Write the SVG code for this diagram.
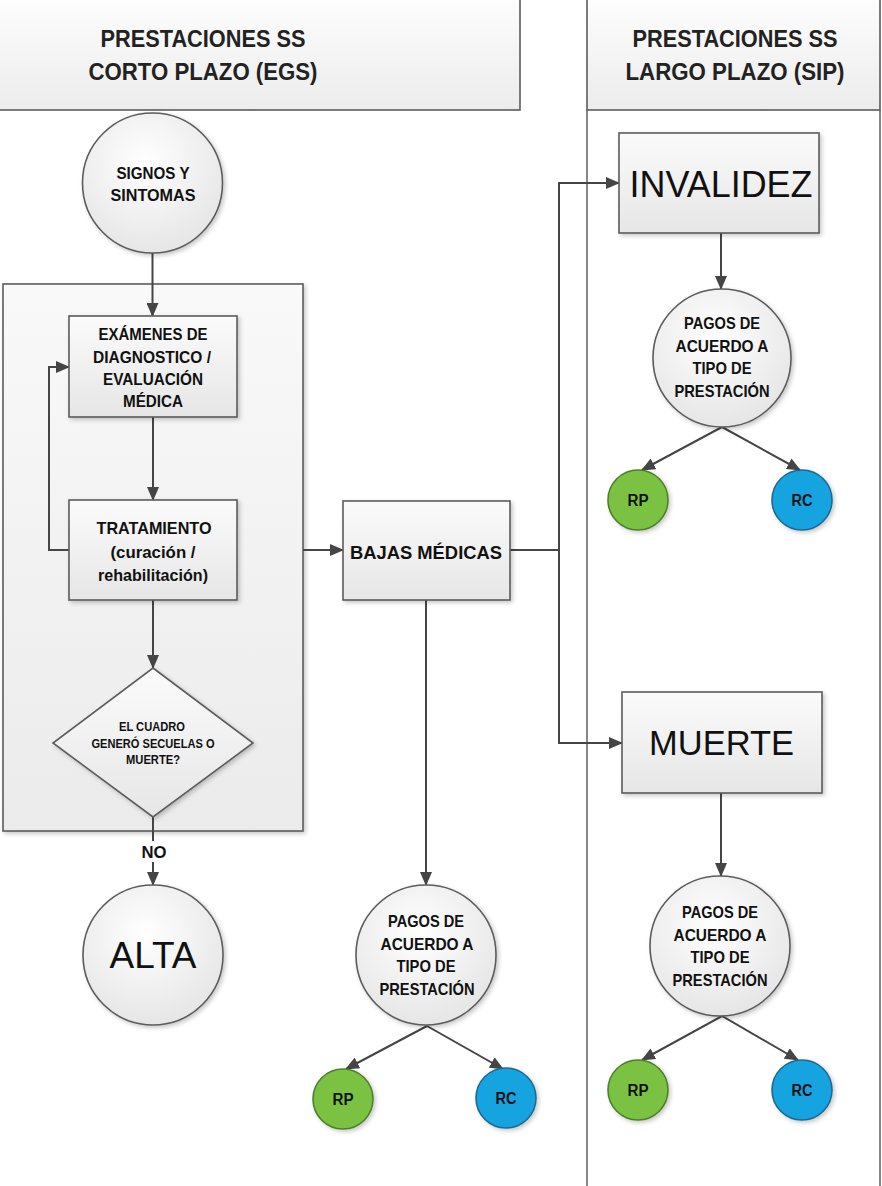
<svg xmlns="http://www.w3.org/2000/svg" width="882" height="1186" viewBox="0 0 882 1186">
<defs>
<linearGradient id="gBox" x1="0" y1="0" x2="0" y2="1"><stop offset="0" stop-color="#fbfbfb"/><stop offset="1" stop-color="#e6e6e6"/></linearGradient>
<linearGradient id="gCont" x1="0" y1="0" x2="0" y2="1"><stop offset="0" stop-color="#f9f9f9"/><stop offset="1" stop-color="#ebebeb"/></linearGradient>
<linearGradient id="gHead" x1="0" y1="0" x2="0" y2="1"><stop offset="0" stop-color="#fdfdfd"/><stop offset="1" stop-color="#ececec"/></linearGradient>
<radialGradient id="gCirc" cx="0.45" cy="0.35" r="0.7"><stop offset="0" stop-color="#ffffff"/><stop offset="1" stop-color="#e4e4e4"/></radialGradient>
<filter id="sh" x="-10%" y="-10%" width="125%" height="125%"><feDropShadow dx="2" dy="2" stdDeviation="2" flood-color="#000" flood-opacity="0.22"/></filter>
<marker id="arr" markerUnits="userSpaceOnUse" markerWidth="14" markerHeight="12" refX="13" refY="6" orient="auto"><path d="M0,0 L14,6 L0,12 z" fill="#454545"/></marker>
<style>
.box{fill:url(#gBox);stroke:#5c5c5c;stroke-width:1.6;filter:url(#sh)}
.head{fill:url(#gHead);stroke:#5c5c5c;stroke-width:1.6}
.lane{fill:none;stroke:#6a6a6a;stroke-width:1.6}
.cont{fill:url(#gCont);stroke:#5c5c5c;stroke-width:1.6;filter:url(#sh)}
.circ{fill:url(#gCirc);stroke:#5c5c5c;stroke-width:1.6;filter:url(#sh)}
.rp{fill:#7cc243;stroke:#4f7f2c;stroke-width:1.6;filter:url(#sh)}
.rc{fill:#17a4e1;stroke:#1f6a8f;stroke-width:1.6;filter:url(#sh)}
.edge{fill:none;stroke:#454545;stroke-width:2;marker-end:url(#arr)}
.line{fill:none;stroke:#454545;stroke-width:2}
text{font-family:"Liberation Sans",Arial,sans-serif;fill:#111;text-anchor:middle}
.h{font-size:23.5px;font-weight:bold;fill:#222}
.s17{font-size:17px;font-weight:bold}
.s16{font-size:16px;font-weight:bold}
.s12{font-size:12px;font-weight:bold}
.big{font-size:37px}
</style>
</defs>

<g id="lane-corto">
<rect class="head" x="-2" y="-1" width="522" height="111"/>
<text class="h" x="203" y="47" textLength="205" lengthAdjust="spacingAndGlyphs">PRESTACIONES SS</text>
<text class="h" x="203" y="80" textLength="229" lengthAdjust="spacingAndGlyphs">CORTO PLAZO (EGS)</text>
</g>
<g id="lane-largo">
<path class="lane" d="M587,110 V1187 M880,110 V1187"/>
<rect class="head" x="587" y="-1" width="293" height="111"/>
<text class="h" x="735" y="47" textLength="205" lengthAdjust="spacingAndGlyphs">PRESTACIONES SS</text>
<text class="h" x="735" y="80" textLength="219" lengthAdjust="spacingAndGlyphs">LARGO PLAZO (SIP)</text>
</g>

<g id="container">
<rect class="cont" x="3" y="284" width="300" height="547"/>
</g>

<g id="connectors">
<path class="edge" d="M152.5,253 V316"/>
<path class="edge" d="M153,417 V500"/>
<path class="edge" d="M153,600 V668"/>
<path class="edge" d="M69,550 H49 V367 H69"/>
<path class="edge" d="M153,817 V885"/>
<rect x="138" y="841" width="32" height="21" fill="#fff"/>
<text class="s16" x="154" y="858" textLength="25" lengthAdjust="spacingAndGlyphs">NO</text>
<path class="edge" d="M303,550 H343"/>
<path class="line" d="M510,550 H559"/>
<path class="edge" d="M559,550 V183 H619"/>
<path class="edge" d="M559,550 V743 H622"/>
<path class="edge" d="M426,600 V885"/>
<path class="edge" d="M721,233 V289"/>
<path class="edge" d="M721,793 V876"/>
<path class="edge" d="M722,427 L642,470"/>
<path class="edge" d="M722,427 L800,470"/>
<path class="edge" d="M427,1026 L346,1069"/>
<path class="edge" d="M427,1026 L503,1069"/>
<path class="edge" d="M722,1016 L642,1060"/>
<path class="edge" d="M722,1016 L798,1060"/>
</g>

<g id="signos">
<circle class="circ" cx="152.5" cy="183" r="70"/>
<text class="s17" x="153" y="179" textLength="73" lengthAdjust="spacingAndGlyphs">SIGNOS Y</text>
<text class="s17" x="153" y="201" textLength="85" lengthAdjust="spacingAndGlyphs">SINTOMAS</text>
</g>

<g id="examenes">
<rect class="box" x="69" y="316" width="168" height="101"/>
<text class="s17" x="153" y="340" textLength="109" lengthAdjust="spacingAndGlyphs">EXÁMENES DE</text>
<text class="s17" x="152" y="363" textLength="118" lengthAdjust="spacingAndGlyphs">DIAGNOSTICO /</text>
<text class="s17" x="153" y="385" textLength="100" lengthAdjust="spacingAndGlyphs">EVALUACIÓN</text>
<text class="s17" x="153" y="407" textLength="60" lengthAdjust="spacingAndGlyphs">MÉDICA</text>
</g>

<g id="tratamiento">
<rect class="box" x="69" y="500" width="168" height="100"/>
<text class="s17" x="154" y="534" textLength="115" lengthAdjust="spacingAndGlyphs">TRATAMIENTO</text>
<text class="s17" x="153" y="558" textLength="85" lengthAdjust="spacingAndGlyphs">(curación /</text>
<text class="s17" x="153" y="581" textLength="110" lengthAdjust="spacingAndGlyphs">rehabilitación)</text>
</g>

<g id="decision">
<polygon class="box" points="153,668 253,743 153,817 53,743"/>
<text class="s12" x="152" y="731" textLength="66" lengthAdjust="spacingAndGlyphs">EL CUADRO</text>
<text class="s12" x="153" y="748" textLength="123" lengthAdjust="spacingAndGlyphs">GENERÓ SECUELAS O</text>
<text class="s12" x="153" y="764" textLength="54" lengthAdjust="spacingAndGlyphs">MUERTE?</text>
</g>

<g id="alta">
<circle class="circ" cx="153" cy="955" r="70"/>
<text x="153" y="968" style="font-size:37px" textLength="87" lengthAdjust="spacingAndGlyphs">ALTA</text>
</g>

<g id="bajas">
<rect class="box" x="343" y="501" width="167" height="99"/>
<text x="426" y="559" style="font-size:18px;font-weight:bold" textLength="152" lengthAdjust="spacingAndGlyphs">BAJAS MÉDICAS</text>
</g>

<g id="invalidez">
<rect class="box" x="619" y="133" width="200" height="100"/>
<text class="big" x="721" y="197" textLength="183" lengthAdjust="spacingAndGlyphs">INVALIDEZ</text>
</g>

<g id="muerte">
<rect class="box" x="622" y="692" width="200" height="101"/>
<text x="721.5" y="755" style="font-size:35px" textLength="145" lengthAdjust="spacingAndGlyphs">MUERTE</text>
</g>

<g id="pagos-invalidez">
<circle class="circ" cx="722" cy="358" r="69"/>
<text class="s17" x="722" y="329" textLength="76" lengthAdjust="spacingAndGlyphs">PAGOS DE</text>
<text class="s17" x="722" y="352" textLength="93" lengthAdjust="spacingAndGlyphs">ACUERDO A</text>
<text class="s17" x="722" y="374" textLength="59" lengthAdjust="spacingAndGlyphs">TIPO DE</text>
<text class="s17" x="722" y="397" textLength="95" lengthAdjust="spacingAndGlyphs">PRESTACIÓN</text>
</g>
<g id="rp-invalidez"><circle class="rp" cx="638" cy="500" r="30"/><text class="s16" x="638" y="506" textLength="21" lengthAdjust="spacingAndGlyphs">RP</text></g>
<g id="rc-invalidez"><circle class="rc" cx="802" cy="500" r="30"/><text class="s16" x="802" y="506" textLength="21" lengthAdjust="spacingAndGlyphs">RC</text></g>

<g id="pagos-bajas">
<circle class="circ" cx="426" cy="955" r="70"/>
<text class="s17" x="426" y="927" textLength="76" lengthAdjust="spacingAndGlyphs">PAGOS DE</text>
<text class="s17" x="427" y="950" textLength="93" lengthAdjust="spacingAndGlyphs">ACUERDO A</text>
<text class="s17" x="426" y="972" textLength="59" lengthAdjust="spacingAndGlyphs">TIPO DE</text>
<text class="s17" x="427" y="995" textLength="95" lengthAdjust="spacingAndGlyphs">PRESTACIÓN</text>
</g>
<g id="rp-bajas"><circle class="rp" cx="343" cy="1099" r="30"/><text class="s16" x="343" y="1105" textLength="21" lengthAdjust="spacingAndGlyphs">RP</text></g>
<g id="rc-bajas"><circle class="rc" cx="506" cy="1098" r="30"/><text class="s16" x="506" y="1104" textLength="21" lengthAdjust="spacingAndGlyphs">RC</text></g>

<g id="pagos-muerte">
<circle class="circ" cx="720" cy="946" r="70"/>
<text class="s17" x="720" y="918" textLength="76" lengthAdjust="spacingAndGlyphs">PAGOS DE</text>
<text class="s17" x="720" y="941" textLength="93" lengthAdjust="spacingAndGlyphs">ACUERDO A</text>
<text class="s17" x="720" y="963" textLength="59" lengthAdjust="spacingAndGlyphs">TIPO DE</text>
<text class="s17" x="720" y="986" textLength="95" lengthAdjust="spacingAndGlyphs">PRESTACIÓN</text>
</g>
<g id="rp-muerte"><circle class="rp" cx="638" cy="1090" r="30"/><text class="s16" x="638" y="1096" textLength="21" lengthAdjust="spacingAndGlyphs">RP</text></g>
<g id="rc-muerte"><circle class="rc" cx="802" cy="1090" r="30"/><text class="s16" x="802" y="1096" textLength="21" lengthAdjust="spacingAndGlyphs">RC</text></g>
</svg>
